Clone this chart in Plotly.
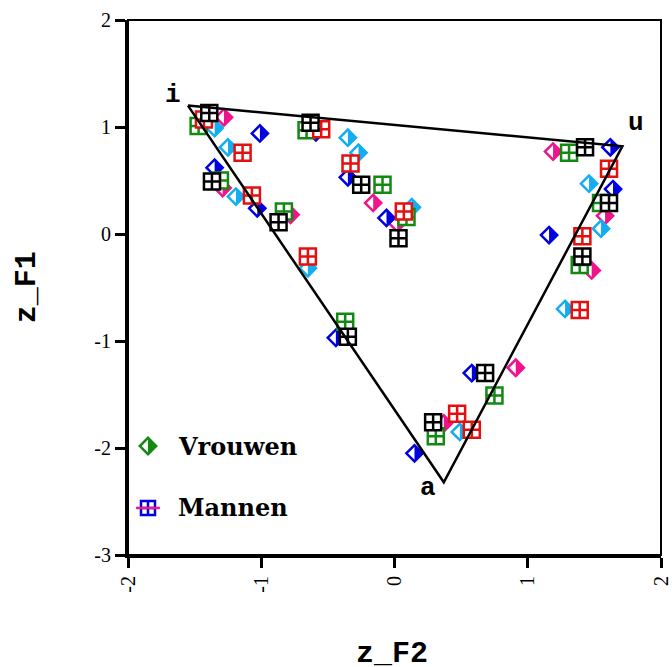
import plotly.graph_objects as go

# Formant space: normalised F2 (x) versus normalised F1 (y)
# Vrouwen (women) speakers -> half-filled diamonds
blue_f2 = [-1.01, -1.35, -1.03, -0.44, -0.59, -0.35, -0.06, 1.62, 1.64, 1.16, 0.15, 0.58]
blue_f1 = [0.94, 0.62, 0.24, -0.97, 0.95, 0.53, 0.15, 0.81, 0.42, -0.01, -2.05, -1.30]

pink_f2 = [-1.28, -1.29, -0.78, -0.16, 0.02, 1.19, 1.58, 1.48, 0.37, 0.91]
pink_f1 = [1.09, 0.43, 0.18, 0.29, 0.10, 0.77, 0.17, -0.34, -1.77, -1.25]

cyan_f2 = [-1.35, -1.25, -1.19, -0.65, -0.35, -0.27, 0.13, 1.46, 1.55, 1.28, 0.49]
cyan_f1 = [0.99, 0.81, 0.35, -0.32, 0.90, 0.76, 0.25, 0.47, 0.05, -0.70, -1.85]

# Mannen (men) speakers -> crossed squares
green_f2 = [-1.47, -1.31, -0.83, -0.37, -0.66, -0.09, 0.09, 1.31, 1.55, 1.39, 0.31, 0.75]
green_f1 = [1.01, 0.50, 0.21, -0.82, 0.97, 0.46, 0.16, 0.76, 0.29, -0.29, -1.89, -1.51]

red_f2 = [-1.43, -1.14, -1.07, -0.65, -0.55, -0.33, 0.07, 1.61, 1.41, 1.39, 0.47, 0.58]
red_f1 = [1.07, 0.76, 0.36, -0.21, 0.98, 0.66, 0.21, 0.61, -0.02, -0.71, -1.68, -1.83]

black_f2 = [-1.39, -1.37, -0.87, -0.35, -0.63, -0.25, 0.03, 1.43, 1.61, 1.41, 0.29, 0.68]
black_f1 = [1.13, 0.49, 0.11, -0.96, 1.04, 0.46, -0.04, 0.81, 0.29, -0.21, -1.76, -1.30]

# Corner vowels of the vowel triangle
corner_labels = ["i", "u", "a"]
corner_f2 = [-1.55, 1.71, 0.37]
corner_f1 = [1.20, 0.82, -2.32]

x_ticks = [-2, -1, 0, 1, 2]
x_tick_text = ["-2", "-1", "0", "1", "2"]
y_ticks = [-3, -2, -1, 0, 1, 2]
y_tick_text = ["-3", "-2", "-1", "0", "1", "2"]

GREEN = "#128a12"
BLUE = "#0000e0"
RED = "#e41010"
PINK = "#f0148c"
CYAN = "#12aef0"
BLACK = "#000000"

DSIZE = 12.5   # diamond marker size
TSIZE = 14     # white cover that blanks the left half of a diamond
SSIZE = 16     # square marker size

fig = go.Figure()


def half_diamonds(x, y, color, xa="x", ya="y"):
    common = dict(mode="markers", hoverinfo="skip", showlegend=False, xaxis=xa, yaxis=ya)
    # solid diamond
    fig.add_trace(go.Scatter(x=x, y=y, marker=dict(symbol="diamond", size=DSIZE, color=color,
                                                   line=dict(width=0)), **common))
    # white left half (triangle shifted so its base sits on the vertical centre line)
    fig.add_trace(go.Scatter(x=x, y=y, marker=dict(symbol="triangle-down", size=TSIZE, color="white",
                                                   angle=90, standoff=TSIZE / 4,
                                                   line=dict(width=0)), **common))
    # outline
    fig.add_trace(go.Scatter(x=x, y=y, marker=dict(symbol="diamond-open", size=DSIZE, color=color,
                                                   line=dict(color=color, width=2.5)), **common))


def crossed_squares(x, y, color, xa="x", ya="y"):
    fig.add_trace(go.Scatter(x=x, y=y, mode="markers", hoverinfo="skip", showlegend=False,
                             xaxis=xa, yaxis=ya,
                             marker=dict(symbol="square-cross", size=SSIZE, color="white",
                                         line=dict(color=color, width=2.5))))


half_diamonds(pink_f2, pink_f1, PINK)
half_diamonds(blue_f2, blue_f1, BLUE)
half_diamonds(cyan_f2, cyan_f1, CYAN)

crossed_squares(green_f2, green_f1, GREEN)
crossed_squares(red_f2, red_f1, RED)
crossed_squares(black_f2, black_f1, BLACK)

# vowel triangle i - u - a
fig.add_trace(go.Scatter(x=corner_f2 + corner_f2[:1], y=corner_f1 + corner_f1[:1], mode="lines",
                         line=dict(color="black", width=2.5), hoverinfo="skip", showlegend=False))

# corner labels
label_shift = {"i": (-15, 11), "u": (14, 23), "a": (-16, -6)}
for lab, fx, fy in zip(corner_labels, corner_f2, corner_f1):
    dx, dy = label_shift[lab]
    fig.add_annotation(x=fx, y=fy, text=lab, showarrow=False, xshift=dx, yshift=dy,
                       font=dict(family="Liberation Mono", size=26, color="black", weight="bold"))

# hand-made key in the lower-left corner (drawn on a hidden 0..1 overlay)
half_diamonds([0.0375], [0.2037], GREEN, "x2", "y2")
fig.add_trace(go.Scatter(x=[0.0375], y=[0.0879], mode="markers", xaxis="x2", yaxis="y2",
                         hoverinfo="skip", showlegend=False,
                         marker=dict(symbol="square-cross", size=14, color="white",
                                     line=dict(color=BLUE, width=2.5))))
fig.add_trace(go.Scatter(x=[0.0375], y=[0.0879], mode="markers", xaxis="x2", yaxis="y2",
                         hoverinfo="skip", showlegend=False,
                         marker=dict(symbol="line-ew", size=17, color=PINK,
                                     line=dict(color=PINK, width=2.5))))
for txt, yy in [("Vrouwen", 0.2037), ("Mannen", 0.0879)]:
    fig.add_annotation(x=0.0901, y=yy, xref="paper", yref="paper", text=txt, showarrow=False,
                       xanchor="left", yanchor="middle",
                       font=dict(family="DejaVu Serif", size=24, color="black", weight="bold"))

# axis titles
fig.add_annotation(x=-0.19, y=0.50, xref="paper", yref="paper", text="z_F1", showarrow=False,
                   textangle=-90, xanchor="center", yanchor="middle",
                   font=dict(family="Liberation Mono", size=30, color="black", weight="bold"))
fig.add_annotation(x=0.495, y=-0.150, xref="paper", yref="paper", text="z_F2", showarrow=False,
                   xanchor="center", yanchor="top",
                   font=dict(family="Liberation Mono", size=30, color="black", weight="bold"))

axis_common = dict(showgrid=False, zeroline=False, showline=True, linecolor="black", linewidth=3,
                   ticks="outside", ticklen=10, tickwidth=2.5, tickcolor="black", automargin=False,
                   tickfont=dict(family="Liberation Serif", size=20, color="black"))

fig.update_layout(
    width=672, height=667,
    margin=dict(l=128, r=11, t=20, b=112, autoexpand=False),
    paper_bgcolor="white", plot_bgcolor="white",
    showlegend=False,
    xaxis=dict(range=[-2, 2], tickvals=x_ticks, ticktext=x_tick_text, tickangle=-90, **axis_common),
    yaxis=dict(range=[-3, 2], tickvals=y_ticks, ticktext=y_tick_text, **axis_common),
    xaxis2=dict(range=[0, 1], overlaying="x", visible=False),
    yaxis2=dict(range=[0, 1], overlaying="y", visible=False),
    shapes=[dict(type="rect", xref="paper", yref="paper", x0=0, x1=1, y0=0, y1=1,
                 line=dict(color="black", width=2))],
)

fig.write_html("out.html")
